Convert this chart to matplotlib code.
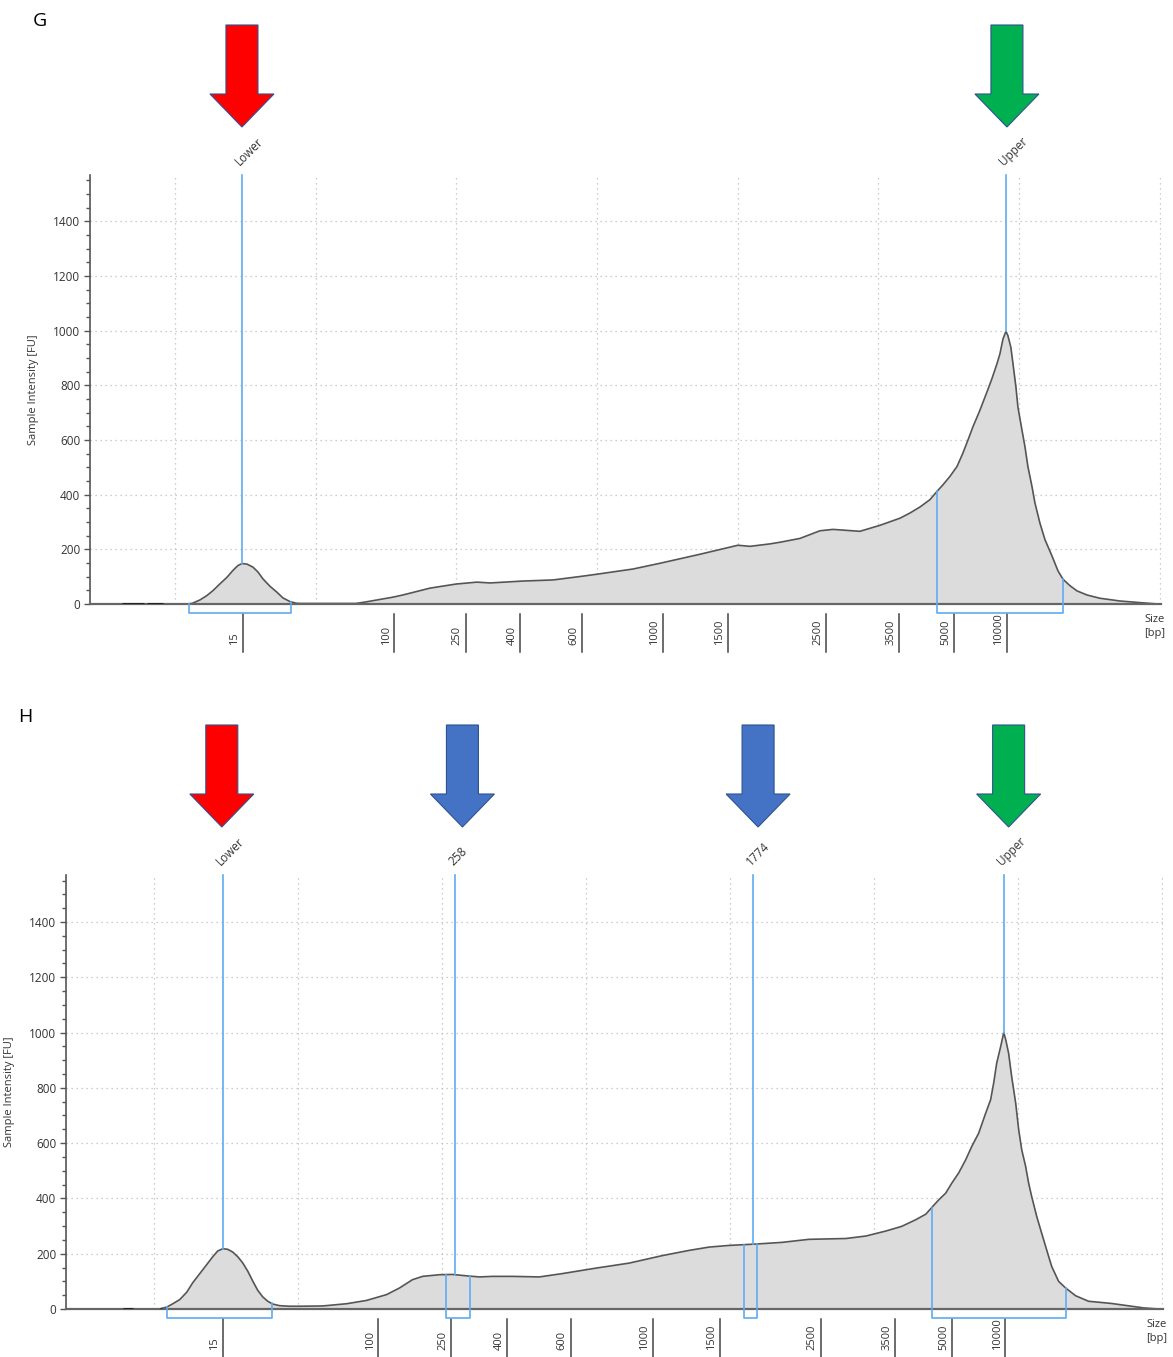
import numpy as np
import matplotlib.pyplot as plt
from matplotlib.patches import Polygon
from matplotlib.transforms import IdentityTransform

plt.rcParams['font.family'] = ['Open Sans', 'DejaVu Sans']

# size ladder: migration position (grid lines sit on whole units) -> bp label
ladder_pos = [1.48, 2.56, 3.065, 3.455, 3.894, 4.465, 4.93, 5.63, 6.146, 6.54, 6.914]
ladder_bp = ['15', '100', '250', '400', '600', '1000', '1500', '2500', '3500', '5000', '10000']

# panel G electropherogram (migration position, intensity in FU)
g_pos = [1.078, 1.121, 1.178, 1.227, 1.270, 1.320, 1.370, 1.412, 1.448, 1.476,
         1.512, 1.554, 1.590, 1.625, 1.675, 1.725, 1.768, 1.817, 1.860, 1.888,
         2.286, 2.350, 2.549, 2.620, 2.812, 2.997, 3.146, 3.239, 3.473, 3.687,
         3.900, 3.999, 4.255, 4.447, 4.731, 5.001, 5.087, 5.229, 5.300, 5.442,
         5.584, 5.677, 5.868, 6.011, 6.153, 6.224, 6.295, 6.366, 6.416, 6.458,
         6.508, 6.558, 6.600, 6.636, 6.671, 6.721, 6.771, 6.806, 6.842, 6.863,
         6.885, 6.906, 6.920, 6.941, 6.956, 6.977, 6.991, 7.020, 7.041, 7.062,
         7.091, 7.112, 7.147, 7.183, 7.233, 7.276, 7.311, 7.361, 7.411, 7.482,
         7.574, 7.716, 7.908, 7.986]
g_fu = [0, 2, 15, 31, 49, 74, 98, 123, 141, 148,
        146, 135, 117, 92, 65, 43, 22, 9, 3, 2,
        2, 7, 25, 33, 58, 73, 80, 77, 84, 88,
        102, 109, 128, 149, 182, 215, 211, 220, 226, 240,
        268, 273, 266, 288, 314, 333, 355, 382, 412, 436,
        467, 503, 552, 600, 648, 709, 776, 824, 879, 915,
        970, 998, 982, 939, 879, 794, 721, 636, 576, 503,
        430, 370, 297, 236, 176, 121, 91, 67, 48, 33,
        21, 11, 3, 0]
g_dashes = [(0.623, 0.780), (0.801, 0.915)]
g_peak_names = ['Lower', 'Upper']
g_peak_pos = [1.476, 6.906]
g_ranges = [(1.100, 1.825), (6.416, 7.311)]
g_arrow_pos = [1.476, 6.913]
g_arrow_colors = ['#FF0000', '#00B050']

# panel H electropherogram
h_pos = [1.055, 1.090, 1.132, 1.180, 1.229, 1.270, 1.319, 1.368, 1.409, 1.444,
         1.479, 1.513, 1.548, 1.583, 1.617, 1.652, 1.687, 1.721, 1.756, 1.791,
         1.825, 1.874, 1.943, 2.012, 2.172, 2.338, 2.477, 2.616, 2.706, 2.796,
         2.866, 2.983, 3.074, 3.171, 3.261, 3.351, 3.490, 3.677, 3.836, 4.072,
         4.301, 4.530, 4.717, 4.856, 4.995, 5.182, 5.362, 5.549, 5.806, 5.945,
         6.083, 6.194, 6.291, 6.361, 6.402, 6.451, 6.499, 6.541, 6.589, 6.638,
         6.680, 6.728, 6.777, 6.811, 6.832, 6.853, 6.881, 6.902, 6.916, 6.936,
         6.957, 6.985, 7.006, 7.027, 7.054, 7.075, 7.096, 7.131, 7.165, 7.200,
         7.235, 7.283, 7.332, 7.401, 7.491, 7.651, 7.873, 7.977]
h_fu = [2, 7, 19, 34, 61, 95, 128, 161, 189, 210,
        218, 216, 206, 189, 167, 137, 101, 68, 44, 28,
        18, 12, 10, 10, 11, 19, 31, 52, 76, 106,
        118, 124, 125, 120, 116, 118, 118, 116, 128, 148,
        166, 193, 212, 224, 230, 235, 241, 252, 255, 264,
        282, 299, 323, 343, 367, 395, 419, 455, 492, 540,
        588, 636, 709, 757, 817, 889, 950, 1000, 974, 925,
        841, 745, 648, 576, 516, 455, 407, 335, 275, 214,
        154, 100, 76, 48, 28, 20, 4, 0]
h_dashes = [(0.785, 0.854), (1.042, 1.055)]
h_peak_names = ['Lower', '258', '1774', 'Upper']
h_peak_pos = [1.479, 3.094, 5.161, 6.902]
h_ranges = [(1.090, 1.818), (3.032, 3.198), (5.098, 5.189), (6.402, 7.332)]
h_arrow_pos = [1.472, 3.143, 5.196, 6.936]
h_arrow_colors = ['#FF0000', '#4472C4', '#4472C4', '#00B050']

W, H = 1173, 1357
BLUE = '#5EABF2'
YTOP = 1570


def block_arrow(fig, ax, x, color):
    # PowerPoint-style block arrow, sized in pixels above the plot area
    px = ax.transData.transform((x, 0))[0]
    top = ax.transAxes.transform((0, 1))[1]
    verts = [(px - 16, top + 150), (px + 16, top + 150), (px + 16, top + 81),
             (px + 32, top + 81), (px, top + 48), (px - 32, top + 81),
             (px - 16, top + 81)]
    fig.add_artist(Polygon(verts, closed=True, facecolor=color,
                           edgecolor='#2F528F', lw=0.8,
                           transform=IdentityTransform()))


def draw_panel(fig, rect, xmin, pos, fu, dashes, names, peaks, ranges,
               arrow_pos, arrow_colors):
    ax = fig.add_axes(rect)
    ax.set_xlim(xmin, 8.008)
    ax.set_ylim(0, YTOP)

    for y in range(200, 1600, 200):
        ax.axhline(y, color='#bdbdbd', lw=0.9, ls=(0, (1, 3)), zorder=0)
    for x in range(1, 9):
        ax.axvline(x, color='#bdbdbd', lw=0.9, ls=(0, (1, 3)), zorder=0)

    ax.fill_between(pos, fu, 0, color='#dcdcdc', lw=0, zorder=1)
    ax.plot(pos, fu, color='#555555', lw=1.2, zorder=2)
    for a, b in dashes:
        ax.plot([a, b], [0, 0], color='#222222', lw=2.2, zorder=3,
                solid_capstyle='butt')

    # peak markers, size-range brackets and labels
    for name, p, (a, b) in zip(names, peaks, ranges):
        yp = np.interp(p, pos, fu)
        ax.plot([p, p], [yp, YTOP], color=BLUE, lw=1.2, zorder=3,
                clip_on=False)
        ya, yb = np.interp(a, pos, fu), np.interp(b, pos, fu)
        ax.plot([a, a, b, b], [ya, -33, -33, yb], color=BLUE, lw=1.2,
                zorder=3, clip_on=False)
        ax.annotate(name, xy=(p, 1), xycoords=('data', 'axes fraction'),
                    xytext=(0, 5), textcoords='offset points',
                    rotation=45, rotation_mode='anchor', ha='left',
                    va='bottom', fontsize=8.5, color='#333333')

    # size ladder below the axis
    for p, lab in zip(ladder_pos, ladder_bp):
        ax.plot([p, p], [-36, -175], color='#444444', lw=1.1,
                clip_on=False)
        ax.annotate(lab, xy=(p, 0), xytext=(-2, -29.5),
                    textcoords='offset points', rotation=90, ha='right',
                    va='bottom', fontsize=8, color='#333333')
    ax.annotate('Size\n[bp]', xy=(1, 0), xycoords='axes fraction',
                xytext=(-12, -7), textcoords='offset points', ha='left',
                va='top', fontsize=8, color='#333333', linespacing=1.45)

    ax.set_xticks([])
    ax.set_yticks(range(0, 1600, 200))
    ax.set_yticks(range(0, 1570, 50), minor=True)
    ax.tick_params(axis='y', which='major', length=4, width=1,
                   colors='#555555', labelcolor='#333333', labelsize=8.5,
                   pad=3)
    ax.tick_params(axis='y', which='minor', length=3, width=1,
                   colors='#555555')
    ax.set_ylabel('Sample Intensity [FU]', fontsize=8, color='#333333',
                  labelpad=10)
    for side in ['top', 'right']:
        ax.spines[side].set_visible(False)
    ax.spines['left'].set_color('#555555')
    ax.spines['left'].set_linewidth(1.2)
    ax.spines['bottom'].set_color('#666666')
    ax.spines['bottom'].set_linewidth(1.6)

    for x, c in zip(arrow_pos, arrow_colors):
        block_arrow(fig, ax, x, c)
    return ax


fig = plt.figure(figsize=(W / 100, H / 100), dpi=100)

# plot areas in figure fraction: left, bottom, width, height
rect_g = [90 / W, (H - 604) / H, (1161 - 90) / W, 429 / H]
rect_h = [66 / W, (H - 1309) / H, (1163 - 66) / W, 434 / H]

draw_panel(fig, rect_g, 0.396, g_pos, g_fu, g_dashes, g_peak_names,
           g_peak_pos, g_ranges, g_arrow_pos, g_arrow_colors)
draw_panel(fig, rect_h, 0.390, h_pos, h_fu, h_dashes, h_peak_names,
           h_peak_pos, h_ranges, h_arrow_pos, h_arrow_colors)

fig.text(33 / W, 1 - 26 / H, 'G', fontsize=14, color='black')
fig.text(18 / W, 1 - 722 / H, 'H', fontsize=14, color='black')

fig.savefig('out.png', dpi=100)
